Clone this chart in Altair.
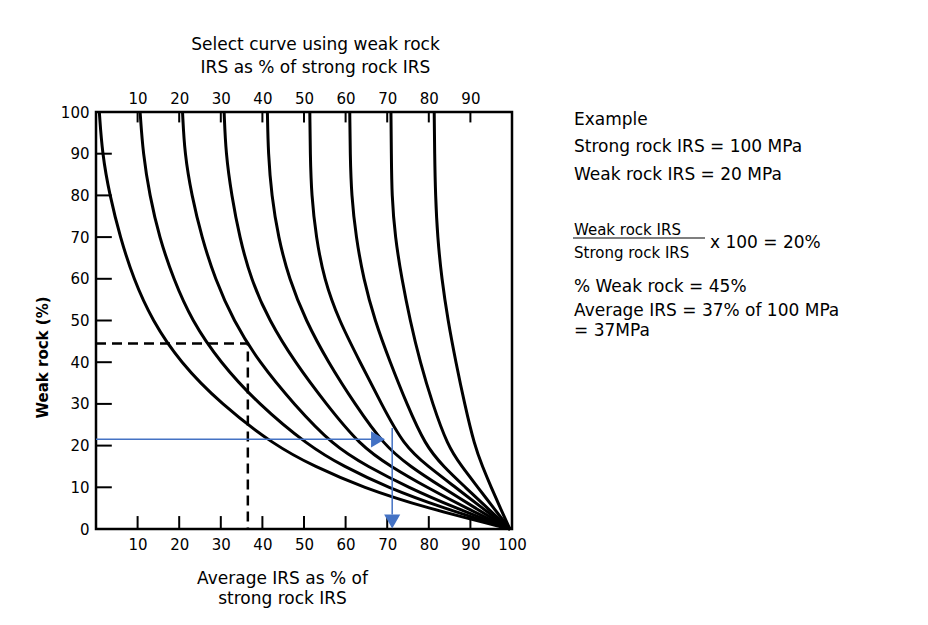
import altair as alt
import pandas as pd

# ---------------- data ----------------
weak_levels = [100, 90, 80, 70, 60, 50, 40, 30, 20, 15, 10, 5, 0]
curve_names = ["0", "10", "20", "30", "40", "50", "60", "70", "80"]
avg_p0  = [0.8, 1.5, 3.3, 5.8, 9.0, 13.5, 20.2, 30.0, 43.0, 52.5, 64.0, 79.5, 99.5]
avg_p10 = [10.6, 11.3, 12.9, 15.2, 18.6, 23.0, 29.8, 39.0, 51.0, 59.5, 70.0, 83.5, 99.5]
avg_p20 = [20.8, 21.3, 23.0, 25.4, 28.6, 33.0, 39.2, 47.5, 57.0, 65.3, 75.0, 86.5, 99.5]
avg_p30 = [30.8, 31.2, 32.6, 34.5, 37.2, 41.6, 47.8, 55.3, 63.5, 70.8, 79.5, 89.0, 99.5]
avg_p40 = [41.2, 41.4, 42.2, 43.8, 46.4, 50.4, 55.8, 62.2, 69.3, 75.5, 83.2, 91.2, 99.5]
avg_p50 = [51.4, 51.5, 51.8, 52.9, 54.8, 58.4, 63.5, 68.6, 74.0, 79.8, 86.4, 92.9, 99.5]
avg_p60 = [61.0, 61.1, 61.4, 62.5, 64.3, 67.0, 70.7, 74.7, 79.2, 83.5, 88.8, 94.1, 99.5]
avg_p70 = [70.9, 71.0, 71.1, 71.9, 73.5, 75.5, 77.9, 80.9, 84.5, 87.9, 91.8, 95.6, 99.5]
avg_p80 = [81.3, 81.4, 81.6, 82.1, 83.1, 84.6, 86.5, 88.6, 91.0, 92.9, 95.0, 97.2, 99.5]
curves_avg = [avg_p0, avg_p10, avg_p20, avg_p30, avg_p40, avg_p50, avg_p60, avg_p70, avg_p80]

x_tick_labels = [10, 20, 30, 40, 50, 60, 70, 80, 90, 100]
top_tick_labels = [10, 20, 30, 40, 50, 60, 70, 80, 90]
y_tick_labels = [0, 10, 20, 30, 40, 50, 60, 70, 80, 90, 100]
inner_ticks = [10, 20, 30, 40, 50, 60, 70, 80, 90]

# worked example (dashed) : 45 % weak rock -> 37 % average
dash_x = [0, 36.5, 36.5]
dash_y = [44.5, 44.5, 0]
# blue example arrows
blue_h_x = [0, 67.0]
blue_h_y = [21.5, 21.5]
blue_v_x = [71.2, 71.2]
blue_v_y = [24.2, 3.5]
arrow_x = [67.8, 71.2]
arrow_y = [21.5, 1.8]
arrow_shape = ["triangle-right", "triangle-down"]

note_text = ["Example", "Strong rock IRS = 100 MPa", "Weak rock IRS = 20 MPa",
             "Weak rock IRS", "Strong rock IRS", "x 100 = 20%",
             "% Weak rock = 45%", "Average IRS = 37% of 100 MPa", "= 37MPa"]
note_px = [478, 478, 478, 478, 478, 614, 478, 478, 478]
note_py = [13, 40, 68, 123, 146, 136, 180, 204, 224]
note_fs = [17, 17, 17, 15, 15, 17, 17, 17, 17]

FONT = "DejaVu Sans"
BLUE = "#4472C4"

# ---------------- tables ----------------
rows = []
for name, vals in zip(curve_names, curves_avg):
    for i, (w, a) in enumerate(zip(weak_levels, vals)):
        rows.append({"curve": name, "seq": i, "weak": w, "avg": a})
curve_df = pd.DataFrame(rows)

dash_df = pd.DataFrame({"x": dash_x, "y": dash_y, "seq": range(len(dash_x))})
blue_df = pd.DataFrame({"x": [blue_h_x[0], blue_v_x[0]], "x2": [blue_h_x[1], blue_v_x[1]],
                        "y": [blue_h_y[0], blue_v_y[0]], "y2": [blue_h_y[1], blue_v_y[1]]})
arrow_df = pd.DataFrame({"x": arrow_x, "y": arrow_y, "shape": arrow_shape})

tick_rows = []
for v in inner_ticks:
    tick_rows.append({"x": 0, "x2": 3.8, "y": v, "y2": v})      # left
    tick_rows.append({"x": v, "x2": v, "y": 0, "y2": 3.1})      # bottom
for v in top_tick_labels:
    tick_rows.append({"x": v, "x2": v, "y": 100, "y2": 97.5})   # top
tick_df = pd.DataFrame(tick_rows)
top_df = pd.DataFrame({"x": top_tick_labels})

note_df = pd.DataFrame({"t": note_text, "px": note_px, "py": note_py, "fs": note_fs})

xs = alt.Scale(domain=[0, 100], nice=False, zero=False)
ys = alt.Scale(domain=[0, 100], nice=False, zero=False)
noX = dict(scale=xs, axis=None)
noY = dict(scale=ys, axis=None)

curves = alt.Chart(curve_df).mark_line(color="black", strokeWidth=3, interpolate="basis").encode(
    x=alt.X("avg:Q", scale=xs, axis=alt.Axis(
        values=x_tick_labels, ticks=False, domain=False, grid=False, labelFlush=False,
        labelFontSize=15, labelPadding=8, labelColor="black", labelFont=FONT,
        title=["Average IRS as % of", "strong rock IRS"], titleFont=FONT, titleFontSize=17,
        titleFontWeight="normal", titleColor="black", titleX=186, titleY=54,
        titleBaseline="alphabetic", titleLineHeight=20)),
    y=alt.Y("weak:Q", scale=ys, axis=alt.Axis(
        values=y_tick_labels, ticks=False, domain=False, grid=False, labelFlush=False,
        labelFontSize=15, labelPadding=7, labelColor="black", labelFont=FONT,
        title="Weak rock (%)", titleFont=FONT, titleFontSize=15, titleFontWeight="bold",
        titleColor="black", titleX=-54, titleY=245, titleAngle=270,
        titleBaseline="middle", titleAlign="center")),
    detail="curve:N",
    order=alt.Order("seq:Q"),
)

top_axis = alt.Chart(top_df).mark_point(opacity=0).encode(
    x=alt.X("x:Q", scale=xs, axis=alt.Axis(
        orient="top", values=top_tick_labels, ticks=False, domain=False, grid=False,
        labelFlush=False, labelFontSize=15, labelPadding=6, labelColor="black", labelFont=FONT,
        title=["Select curve using weak rock", "IRS as % of strong rock IRS"], titleFont=FONT,
        titleFontSize=17, titleFontWeight="normal", titleColor="black",
        titleX=219, titleY=-63, titleBaseline="alphabetic", titleLineHeight=23)),
    y=alt.datum(100, scale=ys, axis=None),
)

ticks = alt.Chart(tick_df).mark_rule(color="black", strokeWidth=2).encode(
    x=alt.X("x:Q", **noX), x2="x2:Q", y=alt.Y("y:Q", **noY), y2="y2:Q")

dashed = alt.Chart(dash_df).mark_line(color="black", strokeWidth=2.5, strokeDash=[10, 6]).encode(
    x=alt.X("x:Q", **noX), y=alt.Y("y:Q", **noY), order="seq:Q")

blue = alt.Chart(blue_df).mark_rule(color=BLUE, strokeWidth=1.5).encode(
    x=alt.X("x:Q", **noX), x2="x2:Q", y=alt.Y("y:Q", **noY), y2="y2:Q")

arrows = alt.Chart(arrow_df).mark_point(filled=True, color=BLUE, size=260, opacity=1).encode(
    x=alt.X("x:Q", **noX), y=alt.Y("y:Q", **noY),
    shape=alt.Shape("shape:N", scale=None))

notes = alt.Chart(note_df).mark_text(align="left", baseline="alphabetic", font=FONT, color="black").encode(
    x=alt.X("px:Q", scale=None, axis=None), y=alt.Y("py:Q", scale=None, axis=None),
    text="t:N", size=alt.Size("fs:Q", scale=None))

frac_line = alt.Chart(pd.DataFrame({"a": [477], "b": [609], "c": [126]})).mark_rule(
    color="black", strokeWidth=1.2).encode(
    x=alt.X("a:Q", scale=None, axis=None), x2="b:Q", y=alt.Y("c:Q", scale=None, axis=None))

chart = alt.layer(curves, top_axis, ticks, dashed, blue, arrows, notes, frac_line).resolve_axis(
    x="independent", y="independent"
).properties(
    width=416, height=417,
    autosize=alt.AutoSizeParams(type="none"),
    padding={"left": 88, "top": 104, "right": 408, "bottom": 88},
    background="white",
).configure(font=FONT).configure_view(stroke="black", strokeWidth=2.5)

chart.save("out.html", embed_options={"renderer": "svg", "actions": False})
